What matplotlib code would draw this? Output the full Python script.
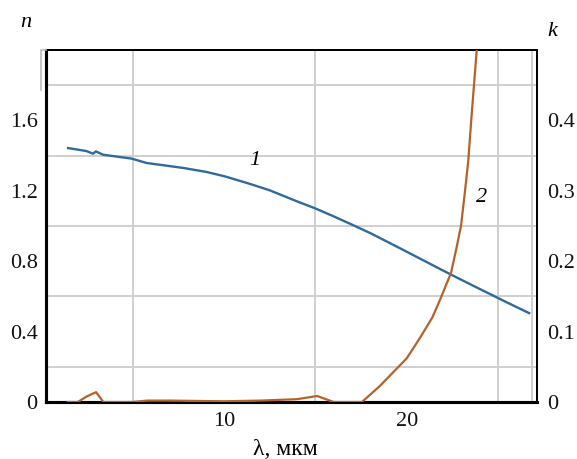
import matplotlib
import matplotlib.pyplot as plt
from matplotlib.lines import Line2D
from matplotlib.ticker import FixedLocator, MultipleLocator

matplotlib.use("Agg")

plt.rcParams["font.family"] = ["Liberation Serif", "DejaVu Serif"]

BLUE = "#2f6a9b"
ORANGE = "#b5622a"
GRID = "#cfcfcf"

# curve 1: refractive index n
lam_n = [1.47, 2.47, 2.83, 2.99, 3.39, 4.95, 5.77, 7.77, 9.05, 10.05, 11.4, 12.5,
         14.0, 15.0, 16.0, 17.0, 18.0, 19.7, 21.0, 22.4, 24.0, 25.5, 26.7]
n_vals = [1.443, 1.426, 1.411, 1.424, 1.405, 1.383, 1.358, 1.33, 1.307, 1.282, 1.24, 1.203,
          1.14, 1.10, 1.055, 1.008, 0.96, 0.87, 0.80, 0.725, 0.642, 0.565, 0.505]

# curve 2: extinction coefficient k
lam_k = [1.45, 2.0, 2.5, 3.0, 3.4, 4.0, 5.0, 5.8, 7.0, 8.5, 10.0, 12.0, 14.0, 15.1, 16.0,
         17.55, 18.5, 19.25, 20.0, 20.7, 21.4, 21.82, 22.42, 22.7, 22.97, 23.17, 23.37,
         23.53, 23.83, 24.0]
k_vals = [0.0, 0.0, 0.008, 0.014, 0.0, 0.0, 0.0, 0.002, 0.002, 0.0015, 0.001, 0.002, 0.004,
          0.0085, 0.0, 0.0, 0.022, 0.042, 0.062, 0.09, 0.12, 0.145, 0.183, 0.216, 0.25,
          0.295, 0.343, 0.4, 0.5, 0.56]

x_ticks = [10, 20]
n_ticks = [0, 0.4, 0.8, 1.2, 1.6]
n_tick_labels = ["0", "0.4", "0.8", "1.2", "1.6"]
k_ticks = [0, 0.1, 0.2, 0.3, 0.4]
k_tick_labels = ["0", "0.1", "0.2", "0.3", "0.4"]

fig = plt.figure(figsize=(5.77, 4.59), dpi=100)
fig.patch.set_facecolor("white")
ax = fig.add_axes([0.0797, 0.1242, 0.851, 0.7668])

ax.set_xlim(0.26, 27.13)
ax.set_ylim(0, 2.0)

ax.xaxis.set_minor_locator(MultipleLocator(5))
ax.yaxis.set_minor_locator(MultipleLocator(0.2))
ax.grid(which="minor", color=GRID, linewidth=1.4, zorder=0)
ax.axvline(26.86, color=GRID, linewidth=1.4, zorder=0)
ax.set_axisbelow(True)

ax.xaxis.set_major_locator(FixedLocator(x_ticks))
ax.set_xticklabels([str(t) for t in x_ticks])
ax.yaxis.set_major_locator(FixedLocator(n_ticks))
ax.set_yticklabels(n_tick_labels)
ax.tick_params(axis="both", which="both", length=0, labelsize=16, colors="#111111")
ax.tick_params(axis="x", pad=7)
ax.tick_params(axis="y", pad=6)

ax.plot(lam_n, n_vals, color=BLUE, linewidth=1.7, zorder=3)

ax2 = ax.twinx()
ax2.set_ylim(0, 0.5)
ax2.yaxis.set_major_locator(FixedLocator(k_ticks))
ax2.set_yticklabels(k_tick_labels)
ax2.tick_params(axis="y", length=0, labelsize=16, colors="#111111", pad=7)
ax2.plot(lam_k, k_vals, color=ORANGE, linewidth=1.6, zorder=3)

for a in (ax, ax2):
    for side in ("top", "right"):
        a.spines[side].set_linewidth(1.4)
    for side in ("left", "bottom"):
        a.spines[side].set_linewidth(2.2)
    for spine in a.spines.values():
        spine.set_color("black")

# small stray bracket left of the frame, as in the source figure
fig.add_artist(Line2D([0.0711, 0.0711, 0.0797], [0.804, 0.891, 0.891],
                      transform=fig.transFigure, color="#bbbbbb", linewidth=1.2))

fig.text(0.044, 0.951, "n", fontsize=16, style="italic", ha="center", va="center")
fig.text(0.957, 0.932, "k", fontsize=16, style="italic", ha="center", va="center")
fig.text(0.495, 0.02, "λ, мкм", fontsize=17, ha="center", va="center")
ax.text(11.7, 1.37, "1", fontsize=16, style="italic", ha="center", va="center")
ax.text(24.1, 1.16, "2", fontsize=16, style="italic", ha="center", va="center")

plt.savefig("out.png", dpi=100, facecolor="white")
plt.close(fig)
